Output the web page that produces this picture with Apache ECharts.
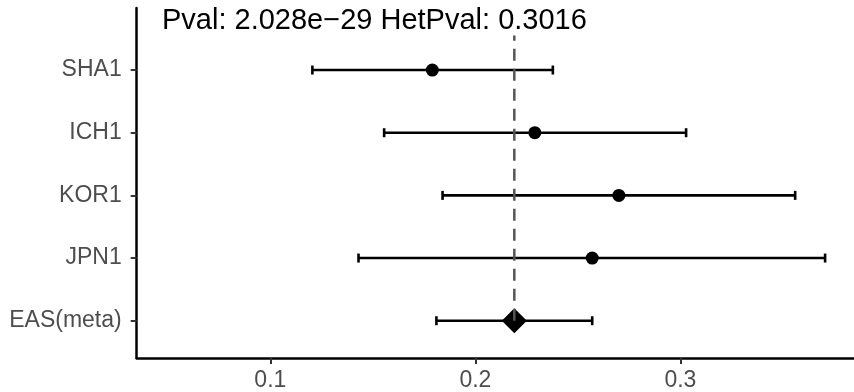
<!DOCTYPE html>
<html>
<head>
<meta charset="utf-8">
<script src="https://cdn.jsdelivr.net/npm/echarts@6/dist/echarts.min.js"></script>
<style>
html,body{margin:0;padding:0;background:#fff;}
#chart{width:854px;height:392px;}
</style>
</head>
<body>
<div id="chart"></div>
<script>
// ---- data ----
var categories = ['EAS(meta)', 'JPN1', 'KOR1', 'ICH1', 'SHA1'];
var positions = [1, 2, 3, 4, 5];
var estimates = [0.219, 0.257, 0.270, 0.229, 0.179];
var lowerCI = [0.181, 0.143, 0.184, 0.1555, 0.1205];
var upperCI = [0.257, 0.3706, 0.356, 0.3028, 0.2378];
var metaValue = 0.219;
var xTicks = [0.1, 0.2, 0.3];
var titleText = 'Pval: 2.028e\u221229 HetPval: 0.3016';

// ---- build ----
var errData = positions.map(function (p, i) { return [lowerCI[i], upperCI[i], p]; });
var pointData = [];
var metaData = [];
positions.forEach(function (p, i) {
  if (categories[i] === 'EAS(meta)') metaData.push([estimates[i], p]);
  else pointData.push([estimates[i], p]);
});

var chart = echarts.init(document.getElementById('chart'), null, {renderer: 'canvas'});
var font = 'Liberation Sans, Arial, Helvetica, sans-serif';
chart.setOption({
  animation: false,
  backgroundColor: '#ffffff',
  title: {
    text: titleText,
    left: 157,
    top: 1,
    textStyle: {fontFamily: font, fontSize: 29, fontWeight: 'normal', color: '#000000'}
  },
  grid: {left: 136.7, right: 0, top: 8, bottom: 33, containLabel: false},
  xAxis: {
    type: 'value',
    min: 0.0348,
    max: 0.3847,
    splitLine: {show: false},
    axisLine: {show: true, lineStyle: {color: '#000000', width: 2.5}},
    axisTick: {show: true, customValues: xTicks, length: 6, lineStyle: {color: '#333333', width: 2}},
    axisLabel: {customValues: xTicks, margin: 11, fontFamily: font, fontSize: 23, color: '#4D4D4D',
      formatter: function (v) { return (Math.round(v * 10) / 10).toFixed(1); }}
  },
  yAxis: {
    type: 'value',
    min: 0.405,
    max: 5.99,
    splitLine: {show: false},
    axisLine: {show: true, lineStyle: {color: '#000000', width: 2.5}},
    axisTick: {show: true, customValues: positions, length: 6, lineStyle: {color: '#333333', width: 2}},
    axisLabel: {customValues: positions, margin: 15, fontFamily: font, fontSize: 23, color: '#4D4D4D',
      formatter: function (v) {
        var idx = positions.indexOf(Math.round(v));
        return idx >= 0 ? categories[idx] : '';
      }}
  },
  series: [
    {
      type: 'custom',
      z: 2,
      data: errData,
      renderItem: function (params, api) {
        var a = api.coord([api.value(0), api.value(2)]);
        var b = api.coord([api.value(1), api.value(2)]);
        var h = 4.5;
        var st = {stroke: '#000000', lineWidth: 2.6};
        return {
          type: 'group',
          children: [
            {type: 'line', shape: {x1: a[0], y1: a[1], x2: b[0], y2: b[1]}, style: st},
            {type: 'line', shape: {x1: a[0], y1: a[1] - h, x2: a[0], y2: a[1] + h}, style: st},
            {type: 'line', shape: {x1: b[0], y1: b[1] - h, x2: b[0], y2: b[1] + h}, style: st}
          ]
        };
      }
    },
    {
      type: 'scatter',
      z: 3,
      data: pointData,
      symbol: 'circle',
      symbolSize: 13,
      itemStyle: {color: '#000000', opacity: 1}
    },
    {
      type: 'scatter',
      z: 3,
      data: metaData,
      symbol: 'diamond',
      symbolSize: [25, 25],
      itemStyle: {color: '#000000', opacity: 1}
    },
    {
      type: 'line',
      z: 4,
      data: [[metaValue, 1], [metaValue, 5.55]],
      symbol: 'none',
      lineStyle: {color: '#555555', width: 2.5, type: [12, 8]}
    }
  ]
});
</script>
</body>
</html>
